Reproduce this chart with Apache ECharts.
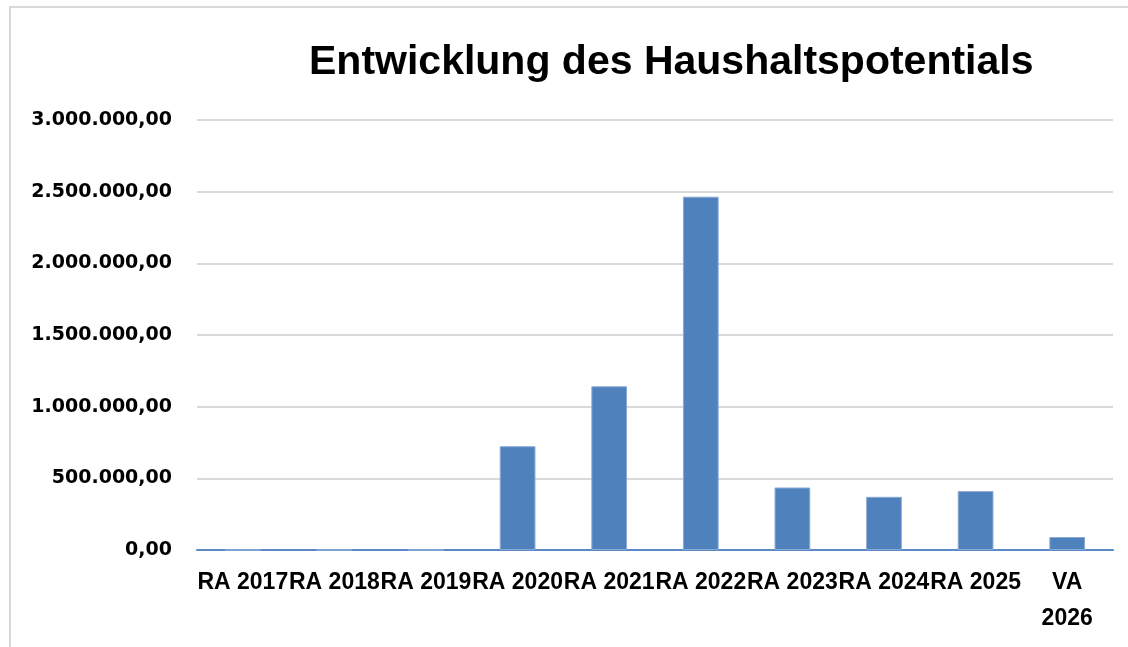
<!DOCTYPE html>
<html>
<head>
<meta charset="utf-8">
<script src="https://cdn.jsdelivr.net/npm/echarts@6/dist/echarts.min.js"></script>
<style>
html,body{margin:0;padding:0;background:#fff;}
#c{width:1128px;height:647px;}
</style>
</head>
<body>
<div id="c"></div>
<script>
var categories = ['RA 2017','RA 2018','RA 2019','RA 2020','RA 2021','RA 2022','RA 2023','RA 2024','RA 2025','VA 2026'];
var values = [0, 0, 0, 724000, 1142000, 2465000, 436000, 371000, 411000, 90500];
var titleText = 'Entwicklung des Haushaltspotentials';

function fmtDE(v){
  var neg = v < 0; v = Math.abs(v);
  var s = v.toFixed(2).split('.');
  var intPart = s[0].replace(/\B(?=(\d{3})+(?!\d))/g, '.');
  return (neg?'-':'') + intPart + ',' + s[1];
}

var chart = echarts.init(document.getElementById('c'), null, {renderer:'canvas'});
chart.setOption({
  animation:false,
  backgroundColor:'#ffffff',
  graphic:[{
    type:'rect', silent:true, z:-1,
    shape:{x:10, y:7, width:1200, height:700},
    style:{fill:null, stroke:'#d9d9d9', lineWidth:2}
  }],
  title:{
    text:titleText,
    left:304, top:37,
    textStyle:{fontFamily:'Liberation Sans', fontWeight:'bold', fontSize:41, color:'#000'}
  },
  grid:{left:197, right:15, top:120, bottom:97, containLabel:false},
  xAxis:{
    type:'category',
    data:categories,
    axisTick:{show:false},
    axisLine:{lineStyle:{color:'#5b8ac6', width:2}},
    axisLabel:{
      interval:0, margin:15,
      fontFamily:'Liberation Sans', fontWeight:'bold', fontSize:23, color:'#000',
      lineHeight:36,
      formatter:function(v){ return v.indexOf('VA')===0 ? v.replace(' ','\n') : v; }
    }
  },
  yAxis:{
    type:'value', min:0, max:3000000, interval:500000,
    axisLine:{show:false}, axisTick:{show:false},
    splitLine:{lineStyle:{color:'#d9d9d9', width:2}},
    axisLabel:{
      margin:25,
      fontFamily:'DejaVu Sans', fontWeight:'bold', fontSize:19, color:'#000',
      formatter:fmtDE
    }
  },
  series:[{
    type:'bar',
    data:values,
    barWidth:'39%',
    itemStyle:{color:'#4f81bd', borderColor:'#8aaad6', borderWidth:1}
  }]
});
</script>
</body>
</html>
